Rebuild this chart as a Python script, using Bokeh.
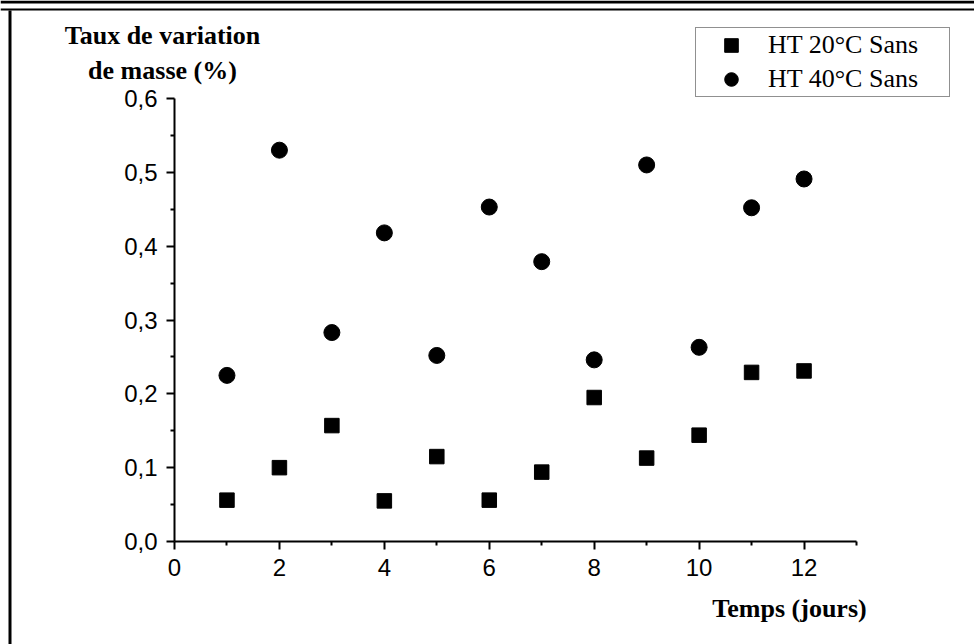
from bokeh.plotting import figure
from bokeh.models import (LinearAxis, FixedTicker, CustomJSTickFormatter, Label,
                          Legend, LegendItem, PolyAnnotation, Range1d)
from bokeh.embed import file_html
from bokeh.resources import INLINE

# ---- data ----
jours = [1, 2, 3, 4, 5, 6, 7, 8, 9, 10, 11, 12]
ht20_sans = [0.056, 0.100, 0.157, 0.055, 0.115, 0.056, 0.094, 0.195, 0.113, 0.144, 0.229, 0.231]
ht40_sans = [0.225, 0.530, 0.283, 0.418, 0.252, 0.453, 0.379, 0.246, 0.510, 0.263, 0.452, 0.491]
x_major = [0, 2, 4, 6, 8, 10, 12]
x_minor = [1, 3, 5, 7, 9, 11, 13]
y_major = [0.0, 0.1, 0.2, 0.3, 0.4, 0.5, 0.6]
y_minor = [0.05, 0.15, 0.25, 0.35, 0.45, 0.55]
legend_labels = ["HT 20°C Sans", "HT 40°C Sans"]
y_title = ["Taux de variation", "de masse (%)"]
x_title = "Temps (jours)"

W, H = 974, 644
# pixel box of the data area (0..13, 0..0.6)
FL, FR, FT, FB = 174, 856, 98, 541
XMIN, XMAX, YMIN, YMAX = 0, 13, 0.0, 0.6
kx = (FR - FL) / (XMAX - XMIN)
ky = (FB - FT) / (YMAX - YMIN)

p = figure(width=W, height=H, output_backend="svg", toolbar_location=None,
           x_axis_type=None, y_axis_type=None,
           x_range=Range1d(XMIN - FL / kx, XMAX + (W - FR) / kx),
           y_range=Range1d(YMIN - (H - FB) / ky, YMAX + FT / ky),
           min_border=0, min_border_left=0, min_border_right=0,
           min_border_top=0, min_border_bottom=0)
p.outline_line_color = None
p.grid.visible = False
p.background_fill_color = "white"
p.border_fill_color = "white"

fmt = CustomJSTickFormatter(code="return tick.toFixed(0)")
yfmt = CustomJSTickFormatter(code="return tick.toFixed(1).replace('.', ',')")

for axis, loc, ticks, minor, f, bnd in [
        (LinearAxis(), "below", x_major, x_minor, fmt, (XMIN, XMAX)),
        (LinearAxis(), "left", y_major, y_minor, yfmt, (YMIN, YMAX))]:
    axis.fixed_location = 0
    axis.bounds = bnd
    axis.ticker = FixedTicker(ticks=ticks, minor_ticks=minor)
    axis.formatter = f
    axis.axis_line_width = 2
    axis.axis_line_color = "black"
    axis.major_tick_line_width = 2
    axis.major_tick_line_color = "black"
    axis.minor_tick_line_width = 2
    axis.minor_tick_line_color = "black"
    axis.major_tick_out = 8
    axis.major_tick_in = 0
    axis.minor_tick_out = 4
    axis.minor_tick_in = 0
    axis.major_label_text_font = "Liberation Sans"
    axis.major_label_text_font_size = "24px"
    axis.major_label_text_color = "black"
    axis.major_label_standoff = 9
    p.add_layout(axis, loc)

sq = p.scatter(jours, ht20_sans, marker="square", size=14.5, fill_color="black",
               line_color="black")
ci = p.scatter(jours, ht40_sans, marker="circle", size=16, fill_color="black",
               line_color="black")

legend = Legend(items=[LegendItem(label=legend_labels[0], renderers=[sq]),
                       LegendItem(label=legend_labels[1], renderers=[ci])],
                location=(695, H - 97), orientation="vertical",
                padding=0, margin=0, spacing=0,
                glyph_width=70, glyph_height=34, label_standoff=2,
                label_width=181, label_height=20,
                label_text_font="Liberation Serif", label_text_font_size="26px",
                label_text_color="black",
                border_line_color="#222222", border_line_width=1,
                background_fill_color="white", background_fill_alpha=1)
p.add_layout(legend, "center")

# titles (screen units; frame covers the whole canvas)
for txt, cy in [(y_title[0], 35), (y_title[1], 70)]:
    p.add_layout(Label(x=162, y=H - cy, x_units="screen", y_units="screen",
                       text=txt, text_align="center", text_baseline="middle",
                       text_font="Liberation Serif", text_font_style="bold",
                       text_font_size="26px", text_color="black"))
p.add_layout(Label(x=789, y=H - 608, x_units="screen", y_units="screen",
                   text=x_title, text_align="center", text_baseline="middle",
                   text_font="Liberation Serif", text_font_style="bold",
                   text_font_size="26px", text_color="black"))

# page frame decoration: double top rule and left rule
def rect(x0, y0, x1, y1):
    xs = [x0, x1, x1, x0]
    ys = [H - y0, H - y0, H - y1, H - y1]
    return PolyAnnotation(xs=xs, ys=ys, xs_units="screen", ys_units="screen",
                          fill_color="black", fill_alpha=1, line_color=None)

p.add_layout(rect(0, 0, W, 3))
p.add_layout(rect(0, 8, W, 10))
p.add_layout(rect(8, 10, 11, H))

open("out.html", "w").write(file_html(p, INLINE))
